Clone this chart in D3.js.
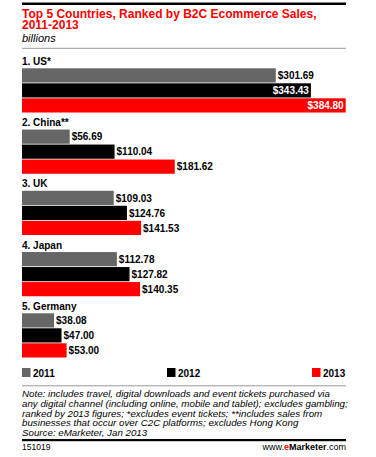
<!DOCTYPE html>
<html>
<head>
<meta charset="utf-8">
<script src="https://cdn.jsdelivr.net/npm/d3@7"></script>
<style>
  body { margin: 0; background: #fff; }
  svg { display: block; font-family: "Liberation Sans", Arial, sans-serif; }
</style>
</head>
<body>
<div id="chart"></div>
<script>
const countries = ["1. US*", "2. China**", "3. UK", "4. Japan", "5. Germany"];
const years = ["2011", "2012", "2013"];
const sales2011 = [301.69, 56.69, 109.03, 112.78, 38.08];
const sales2012 = [343.43, 110.04, 124.76, 127.82, 47.00];
const sales2013 = [384.80, 181.62, 141.53, 140.35, 53.00];
const yearColors = ["#666666", "#000000", "#ff0000"];
const titleLines = ["Top 5 Countries, Ranked by B2C Ecommerce Sales,", "2011-2013"];
const noteLines = [
  "Note: includes travel, digital downloads and event tickets purchased via",
  "any digital channel (including online, mobile and tablet); excludes gambling;",
  "ranked by 2013 figures; *excludes event tickets; **includes sales from",
  "businesses that occur over C2C platforms; excludes Hong Kong",
  "Source: eMarketer, Jan 2013"
];

const W = 376, H = 457;
const left = 22, right = 346;

const series = [sales2011, sales2012, sales2013];
const rows = countries.map((c, i) => ({
  country: c,
  values: years.map((y, j) => ({ year: y, value: series[j][i], color: yearColors[j] }))
}));

const svg = d3.select("#chart").append("svg")
  .attr("width", W).attr("height", H);

// top rule
svg.append("rect").attr("x", left).attr("y", 2.5).attr("width", right - left).attr("height", 2.5).attr("fill", "#000");

// title in one text element, two lines
svg.append("text")
  .attr("font-size", 12).attr("font-weight", "bold").attr("fill", "#ff0000")
  .selectAll("tspan")
  .data(titleLines)
  .join("tspan")
  .attr("x", left)
  .attr("y", (d, i) => 17.5 + i * 11.3)
  .text(d => d);

svg.append("text").attr("x", left).attr("y", 41.5)
  .attr("font-size", 11).attr("font-style", "italic").attr("fill", "#000")
  .text("billions");

svg.append("rect").attr("x", left).attr("y", 47.8).attr("width", right - left).attr("height", 1).attr("fill", "#999");

const x = d3.scaleLinear()
  .domain([0, d3.max(sales2013)])
  .range([left, 345.7]);

const yGroup = d3.scaleBand()
  .domain(countries)
  .range([55.3, 55.3 + 61.25 * countries.length]);

const yBar = d3.scaleBand()
  .domain(years)
  .range([13, 13 + 45]);

const groups = svg.selectAll("g.country")
  .data(rows)
  .join("g")
  .attr("class", "country")
  .attr("transform", d => `translate(0,${yGroup(d.country)})`);

groups.append("text")
  .attr("x", left).attr("y", 9.6)
  .attr("font-size", 10).attr("font-weight", "bold").attr("fill", "#000")
  .text(d => d.country);

const bars = groups.selectAll("g.bar")
  .data(d => d.values)
  .join("g")
  .attr("class", "bar");

bars.append("rect")
  .attr("x", left)
  .attr("y", d => yBar(d.year))
  .attr("width", d => x(d.value) - left)
  .attr("height", yBar.bandwidth() - 0.8)
  .attr("fill", d => d.color);

const fmt = d3.format("$.2f");
bars.append("text")
  .attr("font-size", 10).attr("font-weight", "bold")
  .attr("y", d => yBar(d.year) + yBar.bandwidth() / 2 + 3.4)
  .text(d => fmt(d.value))
  .each(function (d) {
    const w = this.getComputedTextLength();
    const end = x(d.value);
    const t = d3.select(this);
    if (end + 2 + w > right) {
      t.attr("x", end - 2).attr("text-anchor", "end").attr("fill", "#fff");
    } else {
      t.attr("x", end + 2).attr("text-anchor", "start").attr("fill", "#000");
    }
  });

// legend
const legendX = [left, 167, 312];
const legend = svg.selectAll("g.legend")
  .data(years)
  .join("g")
  .attr("class", "legend")
  .attr("transform", (d, i) => `translate(${legendX[i]},368)`);
legend.append("rect").attr("width", 8.5).attr("height", 9).attr("fill", (d, i) => yearColors[i]);
legend.append("text").attr("x", 11).attr("y", 8.8)
  .attr("font-size", 10).attr("font-weight", "bold").attr("fill", "#000")
  .text(d => d);

svg.append("rect").attr("x", left).attr("y", 385.3).attr("width", right - left).attr("height", 1).attr("fill", "#999");

svg.selectAll("text.note")
  .data(noteLines)
  .join("text")
  .attr("class", "note")
  .attr("x", left)
  .attr("y", (d, i) => 396.8 + i * 9.85)
  .attr("font-size", 9.75).attr("font-style", "italic").attr("fill", "#000")
  .text(d => d);

svg.append("rect").attr("x", left).attr("y", 439).attr("width", right - left).attr("height", 2.2).attr("fill", "#000");

svg.append("text").attr("x", left).attr("y", 450)
  .attr("font-size", 8.5).attr("fill", "#000").text("151019");

const site = svg.append("text").attr("x", right).attr("y", 450)
  .attr("font-size", 9).attr("text-anchor", "end").attr("fill", "#000");
site.append("tspan").text("www.");
site.append("tspan").attr("font-weight", "bold").attr("fill", "#ff0000").text("e");
site.append("tspan").attr("font-weight", "bold").text("Marketer");
site.append("tspan").text(".com");
</script>
</body>
</html>
